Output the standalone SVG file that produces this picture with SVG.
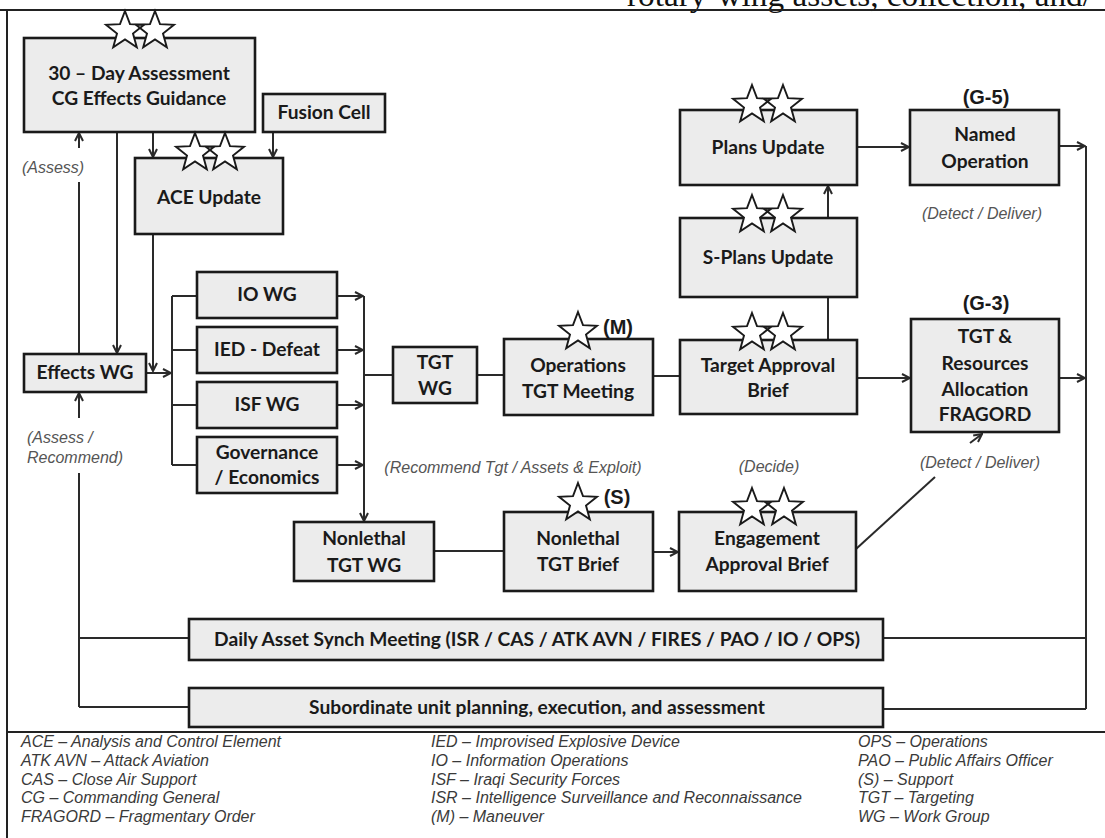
<svg xmlns="http://www.w3.org/2000/svg" width="1105" height="838" viewBox="0 0 1105 838">
<defs>
<style>
.box{fill:#ececec;stroke:#1a1a1a;stroke-width:2.6}
.t{font-family:Lato,"Liberation Sans",sans-serif;font-weight:700;font-size:19.2px;fill:#1a1a1a;text-anchor:middle}
.lbl{font-family:"Liberation Sans",Arial,sans-serif;font-style:italic;font-size:16px;fill:#555;text-anchor:middle}
.tag{font-family:"Liberation Sans",Arial,sans-serif;font-weight:700;font-size:20px;fill:#1a1a1a;text-anchor:middle}
.leg{font-family:"Liberation Sans",Arial,sans-serif;font-style:italic;font-size:16px;fill:#3a3a3a}
.c{fill:none;stroke:#2a2a2a;stroke-width:2}
.a{marker-end:url(#ah)}
.sf{fill:#fff;stroke:none}
.sl{fill:none;stroke:#1a1a1a;stroke-width:1.9;stroke-linejoin:miter}
.frame{fill:none;stroke:#222;stroke-width:2}
</style>
<marker id="ah" viewBox="0 0 10 10" refX="9" refY="5" markerWidth="10" markerHeight="10" markerUnits="userSpaceOnUse" orient="auto">
<path d="M1,1 L9,5 L1,9" fill="none" stroke="#2a2a2a" stroke-width="2"/>
</marker>
<path id="star" d="M0,-20 L5,-6.9 L19,-6.2 L8,2.6 L11.8,16.2 L0,8.4 L-11.8,16.2 L-8,2.6 L-19,-6.2 L-5,-6.9 Z"/>
</defs>
<rect width="1105" height="838" fill="#fff"/>
<text x="627" y="6" font-family="'Liberation Serif',serif" font-size="31" textLength="465" lengthAdjust="spacingAndGlyphs" fill="#111">rotary-wing assets, collection, and/</text>
<g id="frame">
<path class="frame" d="M0,10 H1105 M7,10 V838 M7,732 H1105"/>
</g>
<g id="connectors">
<path class="c a" d="M79,148 V133"/>
<path class="c" d="M79,182 V354"/>
<path class="c a" d="M79,418 V393"/>
<path class="c" d="M79,473 V707 M79,638 H189 M79,707 H189"/>
<path class="c a" d="M117,132 V353"/>
<path class="c a" d="M153,132 V157"/>
<path class="c a" d="M273,132 V157"/>
<path class="c a" d="M153,234 V371"/>
<path class="c a" d="M146,373 H171"/>
<path class="c" d="M172,296 V465 M172,296 H197 M172,350 H197 M172,405 H197 M172,465 H197"/>
<path class="c a" d="M337,296 H363"/>
<path class="c a" d="M337,350 H363"/>
<path class="c a" d="M337,405 H363"/>
<path class="c a" d="M337,465 H363"/>
<path class="c a" d="M364,296 V521"/>
<path class="c" d="M364,375 H393 M477,375 H504 M653,376 H680"/>
<path class="c" d="M828,340 V297"/>
<path class="c a" d="M828,218 V186"/>
<path class="c a" d="M857,147 H909"/>
<path class="c a" d="M1059,146 H1085"/>
<path class="c" d="M1086,146 V709"/>
<path class="c a" d="M857,378 H910"/>
<path class="c a" d="M1059,378 H1085"/>
<path class="c" d="M434,551 H504"/>
<path class="c a" d="M653,552 H678"/>
<path class="c" d="M856,549 L935,477"/>
<path class="c a" d="M970,443 L982,434"/>
<path class="c" d="M883,638 H1086 M883,709 H1086"/>
</g>
<g id="labels">
<text class="lbl" x="53" y="173">(Assess)</text>
<text class="lbl" x="27" y="443" style="text-anchor:start">(Assess /</text>
<text class="lbl" x="27" y="463" style="text-anchor:start">Recommend)</text>
<text class="lbl" x="513" y="473">(Recommend Tgt / Assets &amp; Exploit)</text>
<text class="lbl" x="769" y="472">(Decide)</text>
<text class="lbl" x="982" y="219">(Detect / Deliver)</text>
<text class="lbl" x="980" y="468">(Detect / Deliver)</text>
<text class="tag" x="986" y="104">(G-5)</text>
<text class="tag" x="986" y="310">(G-3)</text>
<text class="tag" x="618" y="334">(M)</text>
<text class="tag" x="617" y="504">(S)</text>
</g>
<g id="n-30day">
<rect class="box" x="24" y="38" width="231" height="94"/>
<text class="t" x="139" y="80">30 – Day Assessment</text>
<text class="t" x="139" y="105">CG Effects Guidance</text>
<use href="#star" class="sf" x="125" y="31"/><use href="#star" class="sf" x="155" y="31"/>
<use href="#star" class="sl" x="125" y="31"/><use href="#star" class="sl" x="155" y="31"/>
</g>
<g id="n-fusion">
<rect class="box" x="263" y="94" width="122" height="38"/>
<text class="t" x="324" y="119">Fusion Cell</text>
</g>
<g id="n-ace">
<rect class="box" x="135" y="158" width="148" height="76"/>
<text class="t" x="209" y="204">ACE Update</text>
<use href="#star" class="sf" x="195" y="153"/><use href="#star" class="sf" x="225" y="153"/>
<use href="#star" class="sl" x="195" y="153"/><use href="#star" class="sl" x="225" y="153"/>
</g>
<g id="n-effects">
<rect class="box" x="24" y="354" width="122" height="38"/>
<text class="t" x="85" y="379">Effects WG</text>
</g>
<g id="n-io">
<rect class="box" x="197" y="272" width="140" height="46"/>
<text class="t" x="267" y="301">IO WG</text>
</g>
<g id="n-ied">
<rect class="box" x="197" y="327" width="140" height="46"/>
<text class="t" x="267" y="356">IED - Defeat</text>
</g>
<g id="n-isf">
<rect class="box" x="197" y="382" width="140" height="46"/>
<text class="t" x="267" y="411">ISF WG</text>
</g>
<g id="n-gov">
<rect class="box" x="197" y="437" width="140" height="56"/>
<text class="t" x="267" y="459">Governance</text>
<text class="t" x="267" y="484">/ Economics</text>
</g>
<g id="n-tgtwg">
<rect class="box" x="393" y="347" width="84" height="56"/>
<text class="t" x="435" y="369">TGT</text>
<text class="t" x="435" y="395">WG</text>
</g>
<g id="n-ops">
<rect class="box" x="504" y="339" width="149" height="76"/>
<text class="t" x="578" y="372">Operations</text>
<text class="t" x="578" y="398">TGT Meeting</text>
<use href="#star" class="sf" x="578" y="332"/>
<use href="#star" class="sl" x="578" y="332"/>
</g>
<g id="n-target">
<rect class="box" x="680" y="340" width="177" height="74"/>
<text class="t" x="768" y="372">Target Approval</text>
<text class="t" x="768" y="397">Brief</text>
<use href="#star" class="sf" x="752" y="333"/><use href="#star" class="sf" x="783" y="333"/>
<use href="#star" class="sl" x="752" y="333"/><use href="#star" class="sl" x="783" y="333"/>
</g>
<g id="n-splans">
<rect class="box" x="680" y="218" width="177" height="79"/>
<text class="t" x="768" y="264">S-Plans Update</text>
<use href="#star" class="sf" x="752" y="215"/><use href="#star" class="sf" x="783" y="215"/>
<use href="#star" class="sl" x="752" y="215"/><use href="#star" class="sl" x="783" y="215"/>
</g>
<g id="n-plans">
<rect class="box" x="680" y="110" width="177" height="75"/>
<text class="t" x="768" y="154">Plans Update</text>
<use href="#star" class="sf" x="752" y="105"/><use href="#star" class="sf" x="783" y="105"/>
<use href="#star" class="sl" x="752" y="105"/><use href="#star" class="sl" x="783" y="105"/>
</g>
<g id="n-named">
<rect class="box" x="910" y="110" width="149" height="75"/>
<text class="t" x="985" y="141">Named</text>
<text class="t" x="985" y="168">Operation</text>
</g>
<g id="n-fragord">
<rect class="box" x="911" y="319" width="148" height="113"/>
<text class="t" x="985" y="343">TGT &amp;</text>
<text class="t" x="985" y="370">Resources</text>
<text class="t" x="985" y="396">Allocation</text>
<text class="t" x="985" y="421">FRAGORD</text>
</g>
<g id="n-nltgtwg">
<rect class="box" x="294" y="522" width="140" height="59"/>
<text class="t" x="364" y="545">Nonlethal</text>
<text class="t" x="364" y="572">TGT WG</text>
</g>
<g id="n-nlbrief">
<rect class="box" x="504" y="512" width="149" height="79"/>
<text class="t" x="578" y="545">Nonlethal</text>
<text class="t" x="578" y="571">TGT Brief</text>
<use href="#star" class="sf" x="578" y="503"/>
<use href="#star" class="sl" x="578" y="503"/>
</g>
<g id="n-engage">
<rect class="box" x="679" y="512" width="177" height="79"/>
<text class="t" x="767" y="545">Engagement</text>
<text class="t" x="767" y="571">Approval Brief</text>
<use href="#star" class="sf" x="752" y="508"/><use href="#star" class="sf" x="784" y="508"/>
<use href="#star" class="sl" x="752" y="508"/><use href="#star" class="sl" x="784" y="508"/>
</g>
<g id="n-daily">
<rect class="box" x="189" y="619" width="694" height="41"/>
<text class="t" x="537" y="646">Daily Asset Synch Meeting (ISR / CAS / ATK AVN / FIRES / PAO / IO / OPS)</text>
</g>
<g id="n-sub">
<rect class="box" x="189" y="688" width="694" height="39"/>
<text class="t" x="537" y="714">Subordinate unit planning, execution, and assessment</text>
</g>
<g id="legend">
<text class="leg" x="21" y="747">ACE – Analysis and Control Element</text>
<text class="leg" x="21" y="766">ATK AVN – Attack Aviation</text>
<text class="leg" x="21" y="785">CAS – Close Air Support</text>
<text class="leg" x="21" y="803">CG – Commanding General</text>
<text class="leg" x="21" y="822">FRAGORD – Fragmentary Order</text>
<text class="leg" x="431" y="747">IED – Improvised Explosive Device</text>
<text class="leg" x="431" y="766">IO – Information Operations</text>
<text class="leg" x="431" y="785">ISF – Iraqi Security Forces</text>
<text class="leg" x="431" y="803">ISR – Intelligence Surveillance and Reconnaissance</text>
<text class="leg" x="431" y="822">(M) – Maneuver</text>
<text class="leg" x="858" y="747">OPS – Operations</text>
<text class="leg" x="858" y="766">PAO – Public Affairs Officer</text>
<text class="leg" x="858" y="785">(S) – Support</text>
<text class="leg" x="858" y="803">TGT – Targeting</text>
<text class="leg" x="858" y="822">WG – Work Group</text>
</g>
</svg>
